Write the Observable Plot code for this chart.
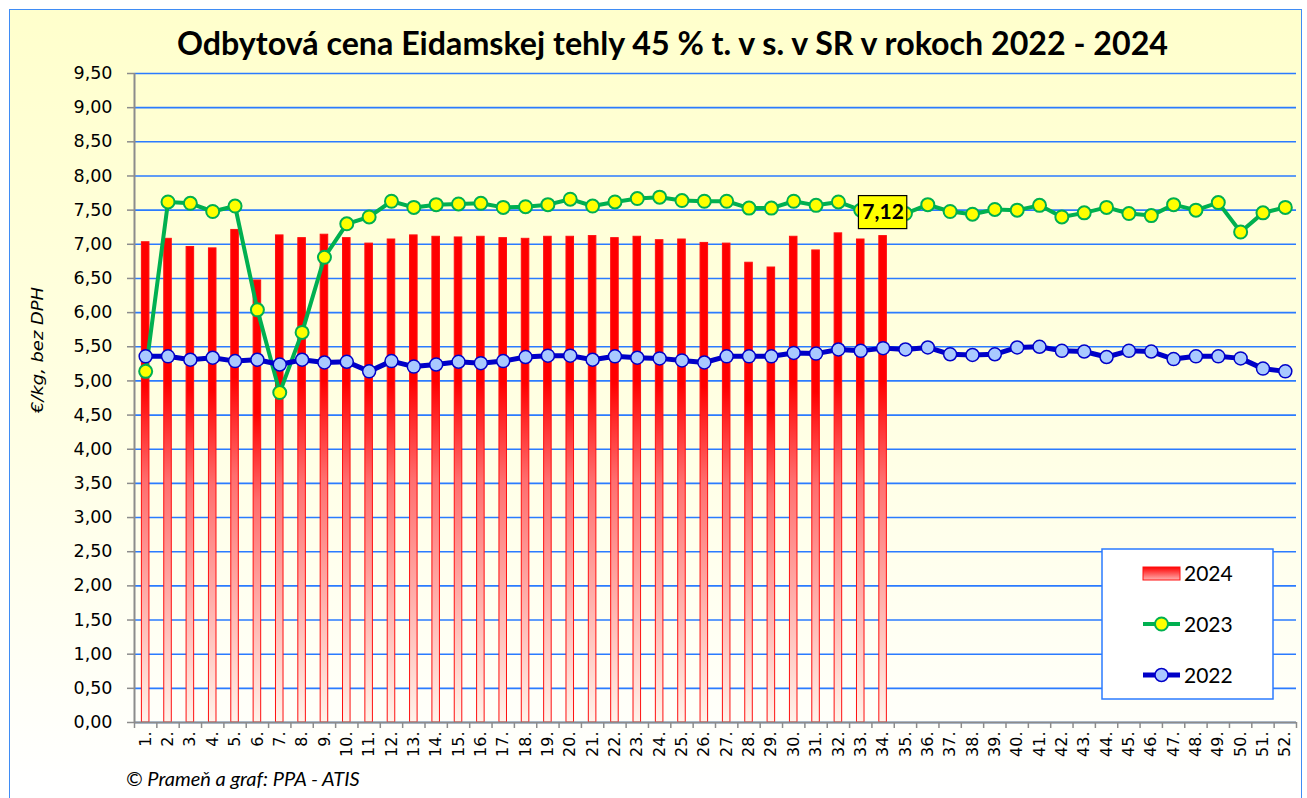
<!DOCTYPE html>
<html><head><meta charset="utf-8">
<script src="https://cdn.jsdelivr.net/npm/d3@7"></script>
<script src="https://cdn.jsdelivr.net/npm/@observablehq/plot@0.6"></script>
<style>
html,body{margin:0;padding:0;background:#fff;}
#wrap{position:relative;width:1307px;height:798px;overflow:hidden;}
#bg{position:absolute;left:9px;top:9px;width:1293px;height:820px;border:1.5px solid #3F8CF5;box-sizing:border-box;
 background:linear-gradient(to bottom,#FFFFCC 0%,#FFFFE6 55%,#FFFFFF 95%);}
#chart{position:absolute;left:0;top:0;}
#overlay{position:absolute;left:0;top:0;pointer-events:none;}
</style></head>
<body>
<div id="wrap"><div id="bg"></div><div id="chart"></div>
<svg id="overlay" width="1307" height="798"></svg></div>
<script>
// ---- data ----
const weeks = ["1.","2.","3.","4.","5.","6.","7.","8.","9.","10.","11.","12.","13.","14.","15.","16.","17.","18.","19.","20.","21.","22.","23.","24.","25.","26.","27.","28.","29.","30.","31.","32.","33.","34.","35.","36.","37.","38.","39.","40.","41.","42.","43.","44.","45.","46.","47.","48.","49.","50.","51.","52."];
const v2024 = [7.03,7.08,6.96,6.94,7.21,6.47,7.13,7.09,7.14,7.09,7.01,7.07,7.13,7.11,7.10,7.11,7.09,7.08,7.11,7.11,7.12,7.09,7.11,7.06,7.07,7.02,7.01,6.73,6.66,7.11,6.91,7.16,7.07,7.12];
const v2023 = [5.14,7.62,7.60,7.48,7.56,6.04,4.83,5.71,6.81,7.30,7.40,7.63,7.54,7.58,7.59,7.60,7.54,7.55,7.58,7.66,7.56,7.62,7.67,7.69,7.64,7.63,7.63,7.53,7.53,7.63,7.57,7.62,7.50,7.45,7.45,7.58,7.48,7.44,7.51,7.50,7.57,7.40,7.46,7.54,7.45,7.42,7.58,7.50,7.61,7.18,7.46,7.54];
const v2022 = [5.36,5.36,5.31,5.34,5.29,5.31,5.24,5.31,5.27,5.28,5.14,5.29,5.21,5.24,5.28,5.26,5.29,5.35,5.37,5.37,5.31,5.36,5.34,5.33,5.30,5.27,5.36,5.36,5.36,5.41,5.40,5.46,5.44,5.48,5.46,5.49,5.39,5.38,5.39,5.49,5.50,5.44,5.43,5.35,5.44,5.43,5.32,5.36,5.36,5.33,5.18,5.14];
const yTicks = [0,0.5,1,1.5,2,2.5,3,3.5,4,4.5,5,5.5,6,6.5,7,7.5,8,8.5,9,9.5];
const seriesNames = ["2024","2023","2022"];
const titleText = "Odbytová cena Eidamskej tehly 45 % t. v s. v SR v rokoch 2022 - 2024";
const yLabel = "€/kg, bez DPH";
const captionText = "© Prameň a graf: PPA - ATIS";

// ---- build ----
const W = 1307, H = 798, mL = 134, mR = 11, mT = 73, mB = 76;
const bw = (W - mL - mR) / weeks.length;
const fmt = d => d.toFixed(2).replace(".", ",");
const bars = v2024.map((v, i) => ({week: weeks[i], v}));
const s23 = v2023.map((v, i) => ({week: weeks[i], v}));
const s22 = v2022.map((v, i) => ({week: weeks[i], v}));
const lastLabel = [bars[bars.length - 1]];
const axisGray = "#8C8C8C";
const gridBlue = "#2B7BFF";

const chart = Plot.plot({
  width: W, height: H, marginLeft: mL, marginRight: mR, marginTop: mT, marginBottom: mB,
  style: {background: "transparent", fontFamily: "DejaVu Sans", color: "#000", overflow: "visible"},
  x: {type: "band", domain: weeks, padding: 0, round: false, axis: null},
  y: {domain: [0, 9.5], axis: null},
  marks: [
    Plot.gridY(yTicks, {stroke: gridBlue, strokeOpacity: 1, strokeWidth: 1.6}),
    Plot.barY(bars, {x: "week", y: "v", fill: "url(#barGrad)", stroke: "#FF1010", strokeWidth: 1, insetLeft: 7.4, insetRight: 7.4}),
    Plot.ruleY([0], {stroke: axisGray, strokeWidth: 2}),
    Plot.ruleX([weeks[0]], {y1: 0, y2: 9.5, dx: -bw / 2, stroke: axisGray, strokeWidth: 2}),
    Plot.axisY({ticks: yTicks, tickSize: 7, tickPadding: 15, tickFormat: fmt, stroke: axisGray, strokeWidth: 1.5, fontSize: 17.5, label: null, fill: "#000"}),
    Plot.axisX({tickSize: 0, tickPadding: 9, tickRotate: -90, fontSize: 16, label: null, fill: "#000"}),
    Plot.ruleX(weeks, {y1: 0, y2: 0, insetBottom: -6, dx: -bw / 2, stroke: axisGray, strokeWidth: 1.5}),
    Plot.ruleX([weeks[weeks.length - 1]], {y1: 0, y2: 0, insetBottom: -6, dx: bw / 2, stroke: axisGray, strokeWidth: 1.5}),
    Plot.line(s23, {x: "week", y: "v", stroke: "#00B050", strokeWidth: 4}),
    Plot.dot(s23, {x: "week", y: "v", r: 6.5, fill: "#FFFF00", stroke: "#00B050", strokeWidth: 2}),
    Plot.line(s22, {x: "week", y: "v", stroke: "#0000C8", strokeWidth: 5}),
    Plot.dot(s22, {x: "week", y: "v", r: 6.5, fill: "#A9C9FF", stroke: "#0000C8", strokeWidth: 1.5}),
    Plot.barY(lastLabel, {x: "week", y1: "v", y2: "v", insetTop: -40, insetBottom: 7, insetLeft: -13, insetRight: -13, fill: "#FFFF00", stroke: "#000", strokeWidth: 1.2}),
    Plot.text(lastLabel, {x: "week", y: "v", dy: -23.5, text: d => fmt(d.v), fontWeight: "bold", fontSize: 21, fill: "#000", fontFamily: "Lato"})
  ]
});
document.getElementById("chart").appendChild(chart);
const svg = chart.tagName.toLowerCase() === "svg" ? chart : chart.querySelector("svg");
svg.insertAdjacentHTML("afterbegin",
  '<defs><linearGradient id="barGrad" x1="0" y1="0" x2="0" y2="1">' +
  '<stop offset="0" stop-color="#FF0000"/><stop offset="0.3" stop-color="#FF0000"/>' +
  '<stop offset="0.5" stop-color="#FF6E6E"/><stop offset="1" stop-color="#FFF3EA"/></linearGradient></defs>');

// ---- overlay texts & legend ----
const ov = d3.select("#overlay");
ov.append("defs").html('<linearGradient id="legGrad" x1="0" y1="0" x2="0" y2="1"><stop offset="0" stop-color="#FF0000"/><stop offset="1" stop-color="#FFB0B0"/></linearGradient>');
ov.append("text").attr("x", 672.5).attr("y", 55).attr("text-anchor", "middle")
  .attr("font-family", "Lato").attr("font-weight", 700).attr("font-size", 32)
  .attr("textLength", 991).attr("lengthAdjust", "spacingAndGlyphs").text(titleText);
ov.append("text").attr("transform", "translate(43,350) rotate(-90)").attr("text-anchor", "middle")
  .attr("font-family", "DejaVu Sans").attr("font-style", "italic").attr("font-size", 16)
  .attr("textLength", 126).attr("lengthAdjust", "spacingAndGlyphs").text(yLabel);
ov.append("text").attr("x", 126).attr("y", 786)
  .attr("font-family", "Lato").attr("font-style", "italic").attr("font-size", 20)
  .text(captionText);

const lg = ov.append("g").attr("transform", "translate(1102,549)");
lg.append("rect").attr("width", 171).attr("height", 150).attr("fill", "#fff").attr("stroke", "#2B7BFF").attr("stroke-width", 1.5);
const colors = [null, {line: "#00B050", fill: "#FFFF00", w: 4, sw: 2}, {line: "#0000C8", fill: "#A9C9FF", w: 5, sw: 1.5}];
seriesNames.forEach((name, i) => {
  const cy = 24 + i * 51;
  if (i === 0) {
    lg.append("rect").attr("x", 41).attr("y", cy - 6).attr("width", 37).attr("height", 13).attr("fill", "url(#legGrad)").attr("stroke", "#FF1010");
  } else {
    const c = colors[i];
    lg.append("line").attr("x1", 41).attr("x2", 78).attr("y1", cy).attr("y2", cy).attr("stroke", c.line).attr("stroke-width", c.w);
    lg.append("circle").attr("cx", 59.5).attr("cy", cy).attr("r", 6.5).attr("fill", c.fill).attr("stroke", c.line).attr("stroke-width", c.sw);
  }
  lg.append("text").attr("x", 82).attr("y", cy + 8).attr("font-family", "Lato").attr("font-size", 21).attr("fill", "#000").text(name);
});
</script>
</body></html>
